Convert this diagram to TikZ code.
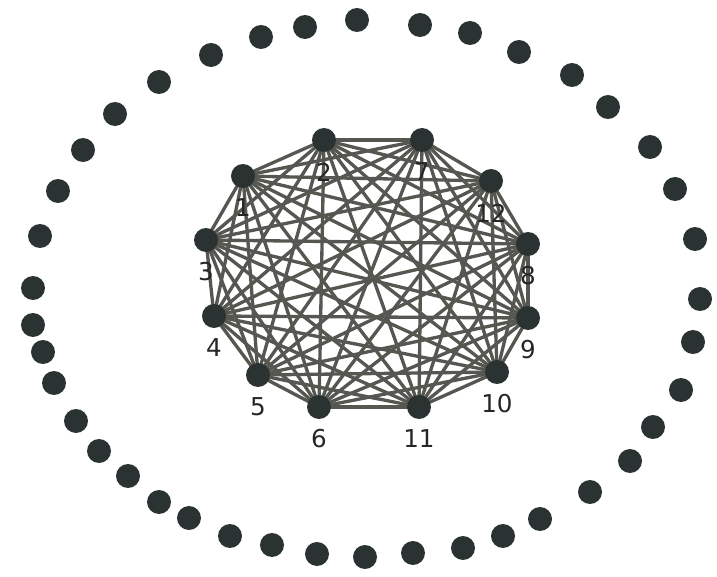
\documentclass[tikz,border=0pt]{standalone}
\usepackage{fontspec}
\setmainfont{DejaVu Sans}
\usetikzlibrary{backgrounds}

\definecolor{dotc}{HTML}{2B3332}
\definecolor{edgec}{HTML}{575751}

\begin{document}
\begin{tikzpicture}[x=0.02cm,y=-0.02cm,
    vert/.style={circle,fill=dotc,inner sep=0pt,minimum size=0.48cm},
    edge/.style={draw=edgec,line width=1.9pt},
    lbl/.style={font=\fontsize{14}{14}\selectfont,text=black!85,yshift=-0.64cm}]
  \useasboundingbox (0,0) rectangle (717,577);

  % clique: name/x/y, label sits under the dot
  \foreach \n/\x/\y in {1/243/176, 2/324/140, 3/206/240, 4/214/316,
      5/258/375, 6/319/407, 7/422/140, 8/528/244, 9/528/318,
      10/497/372, 11/419/407, 12/491/181}
    \node[vert,label={[lbl]center:\n}] (v\n) at (\x,\y) {};

  % every pair joined, behind the dots
  \begin{scope}[on background layer]
    \foreach \i in {1,...,11} {
      \pgfmathtruncatemacro\nxt{\i+1}
      \foreach \j in {\nxt,...,12}
        \draw[edge] (v\i.center) -- (v\j.center);
    }
  \end{scope}

  % outer ring of loose dots, clockwise from the top
  \foreach [count=\k] \x/\y in {357/20, 420/25, 470/33, 519/52, 572/75,
      608/107, 650/147, 675/189, 695/239, 700/299, 693/342, 681/390,
      653/427, 630/461, 590/492, 540/519, 503/536, 463/548, 413/553,
      365/557, 317/554, 272/545, 230/536, 189/518, 159/502, 128/476,
      99/451, 76/421, 54/383, 43/352, 33/325, 33/288, 40/236, 58/191,
      83/150, 115/114, 159/82, 211/55, 261/37, 305/27}
    \node[vert] (o\k) at (\x,\y) {};
\end{tikzpicture}
\end{document}
